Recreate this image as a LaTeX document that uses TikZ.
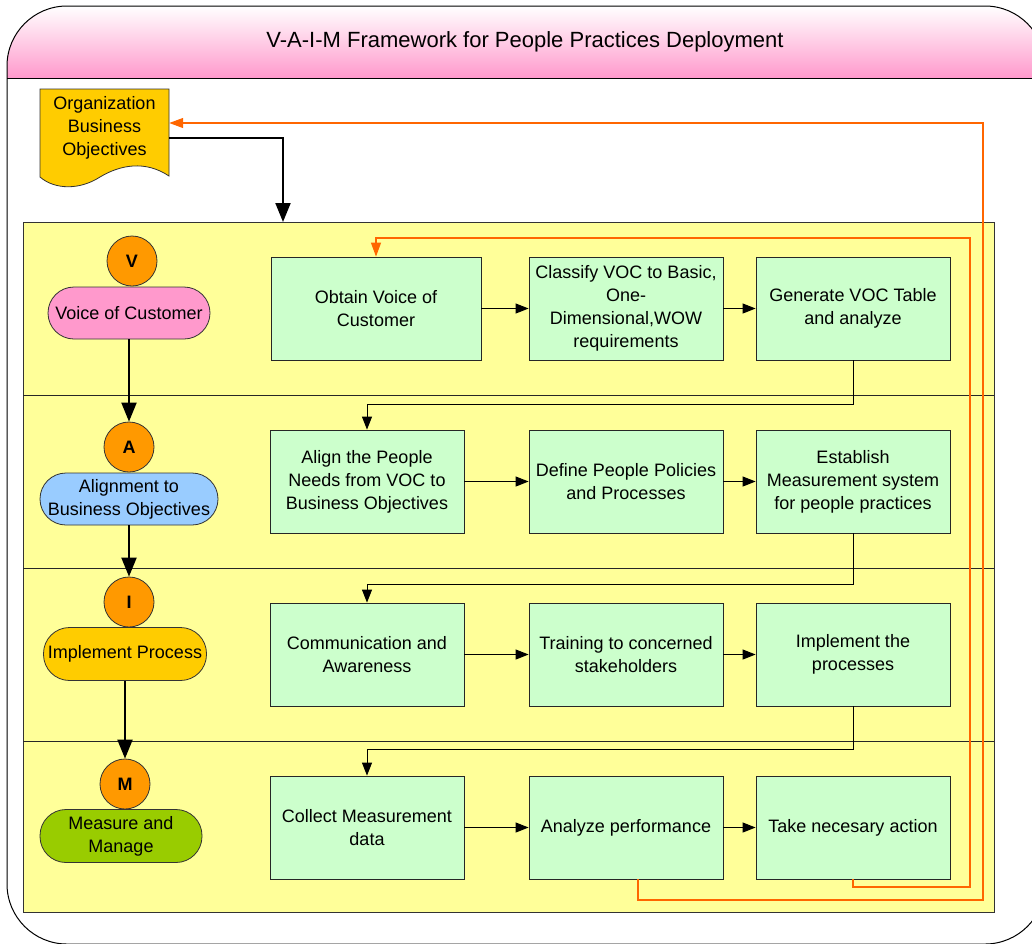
\documentclass[tikz,border=0pt]{standalone}
\usepackage{fontspec}
\setmainfont{Liberation Sans}
\usetikzlibrary{arrows.meta}
\pgfdeclarelayer{bg}
\pgfsetlayers{bg,main}
\definecolor{headpink}{HTML}{FF99CC}
\definecolor{poolyellow}{HTML}{FFFF99}
\definecolor{boxgreen}{HTML}{CCFFCC}
\definecolor{dotorange}{HTML}{FF9900}
\definecolor{vocpink}{HTML}{FF99CC}
\definecolor{alignblue}{HTML}{99CCFF}
\definecolor{implgold}{HTML}{FFCC00}
\definecolor{measgreen}{HTML}{99CC00}
\definecolor{loopline}{HTML}{FF6600}
\tikzset{
    every node/.style={font=\fontsize{18}{23}\selectfont, align=center, inner sep=0pt}
}
\tikzset{
    stepbox/.style={rectangle, draw=black!85, line width=0.8pt, fill=boxgreen, minimum width=194pt, minimum height=103pt},
    letter/.style={circle, draw=black!80, line width=0.8pt, fill=dotorange, minimum size=50pt, font=\fontsize{18}{23}\selectfont\bfseries},
    phase/.style={rectangle, rounded corners=26pt, draw=black!80, line width=0.8pt, minimum height=52pt},
    flow/.style={-{Triangle[length=13pt,width=10pt]}, line width=1pt},
    bigflow/.style={-{Triangle[length=19pt,width=15pt]}, line width=2pt},
    fb/.style={-{Triangle[length=14pt,width=10pt]}, draw=loopline, line width=1.15pt}
}

\begin{document}
\begin{tikzpicture}[x=1pt, y=-1pt]
        \useasboundingbox (0,0) rectangle (1032,943);
        \clip (0,0) rectangle (1032,943);
        \begin{pgfonlayer}{bg}
                \begin{scope}
                        \clip[rounded corners=60pt] (7,6) rectangle (1045,944);
                        \shade[top color=white, bottom color=headpink] (7,6) rectangle (1045,78);
                \end{scope}
                \draw[rounded corners=60pt, line width=1pt] (7,6) rectangle (1045,944);
                \draw[line width=1pt] (7,78) -- (1045,78);
                \node (pool) [rectangle, draw=black!80, line width=1pt, fill=poolyellow, minimum width=971pt, minimum height=690pt] at (508.5,567) {};
                \draw[black!85] (23,395) -- (994,395);
                \draw[black!85] (23,568) -- (994,568);
                \draw[black!85] (23,741) -- (994,741);
                \draw[fill=implgold, draw=black!80, line width=0.8pt] (40,89) -- (169,89) -- (169,176)
                        .. controls (145,160) and (120,165) .. (100,177)
                        .. controls (80,190) and (55,190) .. (40,177) -- cycle;
        \end{pgfonlayer}
        \node (title) [font=\fontsize{22}{26}\selectfont] at (525,42) {V-A-I-M Framework for People Practices Deployment};
        \node (obj) [minimum width=129pt, minimum height=78pt] at (104.5,128) {Organization\\Business\\Objectives};
        \coordinate (poolin) at (283,222);
        % phases
        \node (p1) [phase, fill=vocpink, minimum width=162pt] at (129,313) {Voice of Customer};
        \node (p2) [phase, fill=alignblue, minimum width=178pt] at (129,499) {Alignment to\\Business Objectives};
        \node (p3) [phase, fill=implgold, minimum width=163pt, minimum height=53pt] at (125,654) {Implement Process};
        \node (p4) [phase, fill=measgreen, minimum width=162pt, minimum height=53pt] at (121,836) {Measure and\\Manage};
        \node (c1) [letter] at (132,261) {V};
        \node (c2) [letter] at (129,447) {A};
        \node (c3) [letter] at (129,602) {I};
        \node (c4) [letter] at (125,784) {M};
        % steps
        \node (b11) [stepbox, minimum width=210pt] at (376,308.5) {Obtain Voice of\\Customer};
        \node (b12) [stepbox] at (626,308.5) {Classify VOC to Basic,\\One-\\Dimensional,WOW\\requirements};
        \node (b13) [stepbox] at (853,308.5) {Generate VOC Table\\and analyze};
        \node (b21) [stepbox] at (367,481.5) {Align the People\\Needs from VOC to\\Business Objectives};
        \node (b22) [stepbox] at (626,481.5) {Define People Policies\\and Processes};
        \node (b23) [stepbox] at (853,481.5) {Establish\\Measurement system\\for people practices};
        \node (b31) [stepbox] at (367,654.5) {Communication and\\Awareness};
        \node (b32) [stepbox] at (626,654.5) {Training to concerned\\stakeholders};
        \node (b33) [stepbox] at (853,654.5) {Implement the\\processes};
        \node (b41) [stepbox] at (367,827.5) {Collect Measurement\\data};
        \node (b42) [stepbox] at (626,827.5) {Analyze performance};
        \node (b43) [stepbox] at (853,827.5) {Take necesary action};
        % connectors
        \draw[bigflow] ([yshift=-10pt]obj.east) -| (poolin);
        \draw (p1) edge [bigflow] (c2);
        \draw (p2) edge [bigflow] (c3);
        \draw (p3) edge [bigflow] (c4);
        \draw (b11) edge [flow] (b12);
        \draw (b12) edge [flow] (b13);
        \draw (b21) edge [flow] (b22);
        \draw (b22) edge [flow] (b23);
        \draw (b31) edge [flow] (b32);
        \draw (b32) edge [flow] (b33);
        \draw (b41) edge [flow] (b42);
        \draw (b42) edge [flow] (b43);
        \draw[flow] (b13.south) -- ++(0,44) -| (b21.north);
        \draw[flow] (b23.south) -- ++(0,51) -| (b31.north);
        \draw[flow] (b33.south) -- ++(0,43) -| (b41.north);
        \draw[fb] ([xshift=12pt]b42.south) |- (983,900) |- ([yshift=5pt]obj.east);
        \draw[fb] (b43.south) |- (970,887) -- (970,238) -| (b11.north);
\end{tikzpicture}
\end{document}
